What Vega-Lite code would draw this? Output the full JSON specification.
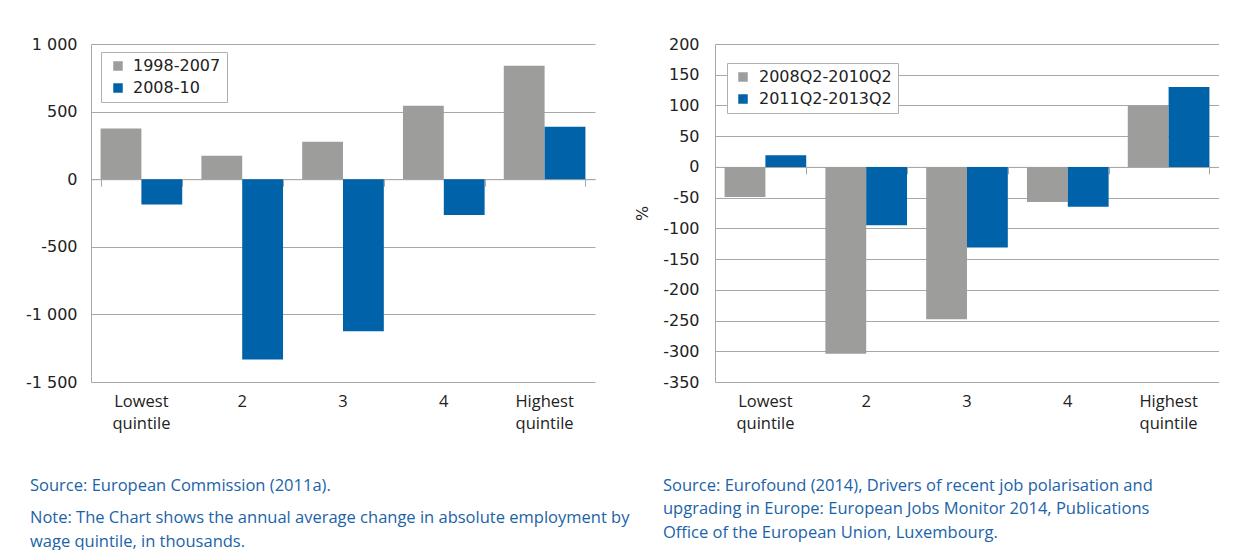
{
  "$schema": "https://vega.github.io/schema/vega-lite/v6.json",
  "background": "white",
  "padding": {"left": 25, "top": 36, "right": 0, "bottom": 0},
  "bounds": "flush",
  "spacing": 120,
  "resolve": {"scale": {"color": "independent", "y": "independent", "x": "independent", "xOffset": "independent"}, "legend": {"color": "independent"}},
  "config": {
    "view": {"stroke": null},
    "axis": {"labelColor": "#222222", "gridColor": "#a8a8a8", "domainColor": "#a8a8a8", "tickColor": "#a8a8a8", "gridWidth": 1, "domainWidth": 1},
    "axisY": {"labelOverlap": false},
    "legend": {"labelColor": "#222222"}
  },
  "hconcat": [
    {
      "width": 504,
      "height": 338,
      "data": {"values": [
        {"quintile": "Lowest quintile", "period": "1998-2007", "value": 375},
        {"quintile": "Lowest quintile", "period": "2008-10", "value": -188},
        {"quintile": "2", "period": "1998-2007", "value": 173},
        {"quintile": "2", "period": "2008-10", "value": -1333},
        {"quintile": "3", "period": "1998-2007", "value": 277},
        {"quintile": "3", "period": "2008-10", "value": -1125},
        {"quintile": "4", "period": "1998-2007", "value": 544},
        {"quintile": "4", "period": "2008-10", "value": -265},
        {"quintile": "Highest quintile", "period": "1998-2007", "value": 840},
        {"quintile": "Highest quintile", "period": "2008-10", "value": 388}
      ]},
      "title": {
        "text": "Source: European Commission (2011a).",
        "subtitle": ["Note: The Chart shows the annual average change in absolute employment by", "wage quintile, in thousands."],
        "orient": "bottom", "anchor": "start", "frame": "group", "dx": -61, "offset": 46,
        "font": "Open Sans", "fontSize": 16.5, "fontWeight": "normal", "color": "#1b63a8",
        "subtitleFont": "Open Sans", "subtitleFontSize": 16.5, "subtitleColor": "#1b63a8",
        "subtitlePadding": 16, "lineHeight": 23.5, "subtitleLineHeight": 23.5
      },
      "resolve": {"axis": {"x": "independent"}},
      "layer": [
        {
          "mark": {"type": "bar"},
          "encoding": {
            "x": {"field": "quintile", "type": "nominal", "sort": ["Lowest quintile", "2", "3", "4", "Highest quintile"],
              "scale": {"paddingInner": 0.19, "paddingOuter": 0.095},
              "axis": {"title": null, "domain": false, "ticks": false, "labelAngle": 0, "labelFont": "Open Sans", "labelFontSize": 16.5, "labelPadding": 11, "labelLineHeight": 22,
                "labelExpr": "datum.value == 'Lowest quintile' ? ['Lowest', 'quintile'] : datum.value == 'Highest quintile' ? ['Highest', 'quintile'] : datum.value"}},
            "xOffset": {"field": "period", "type": "nominal", "sort": ["1998-2007", "2008-10"], "scale": {"paddingInner": 0, "paddingOuter": 0}},
            "y": {"field": "value", "type": "quantitative", "scale": {"domain": [-1500, 1000], "nice": false},
              "axis": {"title": null, "values": [-1500, -1000, -500, 0, 500, 1000], "grid": true, "ticks": false, "domain": true, "labelPadding": 14, "labelFont": "DejaVu Sans", "labelFontSize": 16, "labelOverlap": false,
                "labelExpr": "(datum.value < 0 ? '-' : '') + replace(format(abs(datum.value), ','), ',', ' ')"}},
            "color": {"field": "period", "type": "nominal", "sort": ["1998-2007", "2008-10"],
              "scale": {"domain": ["1998-2007", "2008-10"], "range": ["#9d9d9c", "#0062a8"]},
              "legend": {"title": null, "orient": "none", "legendX": 10, "legendY": 8, "direction": "vertical", "symbolType": "square", "symbolSize": 90, "symbolStrokeWidth": 0, "symbolOffset": 3,
                "labelFont": "DejaVu Sans", "labelFontSize": 16, "strokeColor": "#b0b0b0", "fillColor": "white", "padding": 6, "rowPadding": 6, "labelOffset": 7}}
          }
        },
        {
          "mark": {"type": "tick", "opacity": 0},
          "encoding": {
            "x": {"field": "quintile", "type": "nominal", "sort": ["Lowest quintile", "2", "3", "4", "Highest quintile"],
              "axis": {"orient": "bottom", "offset": -202.8, "title": null, "labels": false, "grid": false, "domain": true, "ticks": true, "tickBand": "extent", "tickSize": 7}}
          }
        }
      ]
    },
    {
      "width": 504,
      "height": 338,
      "data": {"values": [
        {"quintile": "Lowest quintile", "period": "2008Q2-2010Q2", "value": -49},
        {"quintile": "Lowest quintile", "period": "2011Q2-2013Q2", "value": 19},
        {"quintile": "2", "period": "2008Q2-2010Q2", "value": -304},
        {"quintile": "2", "period": "2011Q2-2013Q2", "value": -95},
        {"quintile": "3", "period": "2008Q2-2010Q2", "value": -248},
        {"quintile": "3", "period": "2011Q2-2013Q2", "value": -131},
        {"quintile": "4", "period": "2008Q2-2010Q2", "value": -57},
        {"quintile": "4", "period": "2011Q2-2013Q2", "value": -65},
        {"quintile": "Highest quintile", "period": "2008Q2-2010Q2", "value": 100},
        {"quintile": "Highest quintile", "period": "2011Q2-2013Q2", "value": 130}
      ]},
      "title": {
        "text": ["Source: Eurofound (2014), Drivers of recent job polarisation and", "upgrading in Europe: European Jobs Monitor 2014, Publications", "Office of the European Union, Luxembourg."],
        "orient": "bottom", "anchor": "start", "frame": "group", "dx": -52, "offset": 46,
        "font": "Open Sans", "fontSize": 16.5, "fontWeight": "normal", "color": "#1b63a8", "lineHeight": 23.5
      },
      "resolve": {"axis": {"x": "independent"}},
      "layer": [
        {
          "mark": {"type": "bar"},
          "encoding": {
            "x": {"field": "quintile", "type": "nominal", "sort": ["Lowest quintile", "2", "3", "4", "Highest quintile"],
              "scale": {"paddingInner": 0.19, "paddingOuter": 0.095},
              "axis": {"title": null, "domain": false, "ticks": false, "labelAngle": 0, "labelFont": "Open Sans", "labelFontSize": 16.5, "labelPadding": 11, "labelLineHeight": 22,
                "labelExpr": "datum.value == 'Lowest quintile' ? ['Lowest', 'quintile'] : datum.value == 'Highest quintile' ? ['Highest', 'quintile'] : datum.value"}},
            "xOffset": {"field": "period", "type": "nominal", "sort": ["2008Q2-2010Q2", "2011Q2-2013Q2"], "scale": {"paddingInner": 0, "paddingOuter": 0}},
            "y": {"field": "value", "type": "quantitative", "scale": {"domain": [-350, 200], "nice": false},
              "axis": {"title": "%", "titleFont": "DejaVu Sans", "titleFontSize": 16, "titleFontWeight": "normal", "titleColor": "#222222", "titlePadding": 12,
                "values": [-350, -300, -250, -200, -150, -100, -50, 0, 50, 100, 150, 200], "grid": true, "ticks": false, "domain": true, "labelPadding": 16, "labelFont": "DejaVu Sans", "labelFontSize": 16, "labelOverlap": false,
                "labelExpr": "(datum.value < 0 ? '-' : '') + abs(datum.value)"}},
            "color": {"field": "period", "type": "nominal", "sort": ["2008Q2-2010Q2", "2011Q2-2013Q2"],
              "scale": {"domain": ["2008Q2-2010Q2", "2011Q2-2013Q2"], "range": ["#9d9d9c", "#0062a8"]},
              "legend": {"title": null, "orient": "none", "legendX": 12, "legendY": 19, "direction": "vertical", "symbolType": "square", "symbolSize": 90, "symbolStrokeWidth": 0, "symbolOffset": 2,
                "labelFont": "DejaVu Sans", "labelFontSize": 16, "strokeColor": "#b0b0b0", "fillColor": "white", "padding": 6, "rowPadding": 6, "labelOffset": 8}}
          }
        },
        {
          "mark": {"type": "tick", "opacity": 0},
          "encoding": {
            "x": {"field": "quintile", "type": "nominal", "sort": ["Lowest quintile", "2", "3", "4", "Highest quintile"],
              "axis": {"orient": "bottom", "offset": -215.1, "title": null, "labels": false, "grid": false, "domain": true, "ticks": true, "tickBand": "extent", "tickSize": 7}}
          }
        }
      ]
    }
  ]
}
